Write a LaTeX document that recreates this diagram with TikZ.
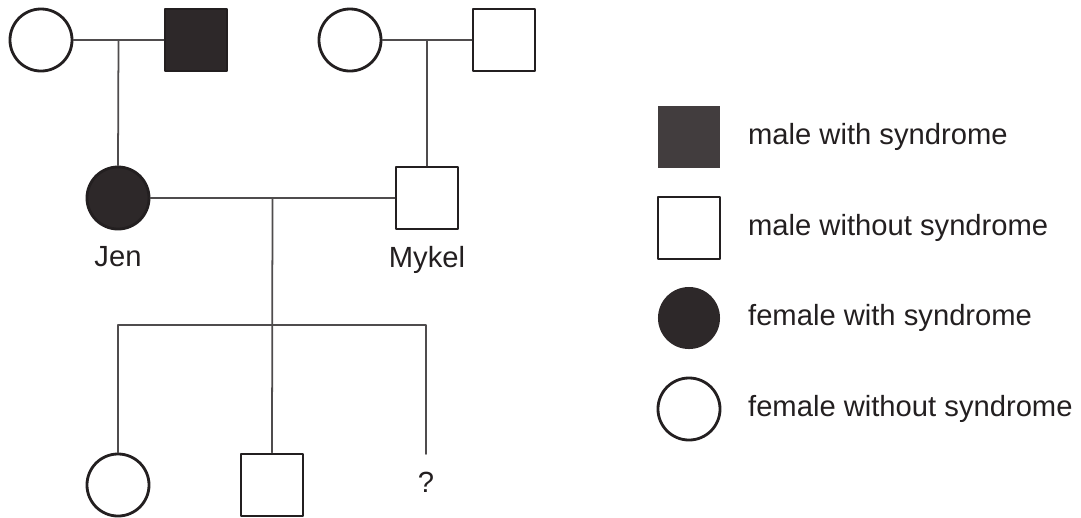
\documentclass[tikz,border=0pt]{standalone}
\usepackage{fontspec}
\setmainfont{Liberation Sans}
\usetikzlibrary{calc}

\definecolor{ink}{RGB}{35,31,32}
\definecolor{affected}{RGB}{45,40,41}

\begin{document}
\begin{tikzpicture}[x=0.01cm, y=-0.01cm, line cap=round, line join=round,
  female/.style={circle, draw=ink, line width=0.8pt, minimum size=0.62cm, inner sep=0pt},
  male/.style={rectangle, draw=ink, line width=0.8pt, minimum size=0.62cm, inner sep=0pt},
  sick/.style={fill=affected},
  link/.style={draw=ink!80, line width=0.5pt},
  label/.style={text=ink, font=\fontsize{8.3}{10}\selectfont},
  legendtext/.style={label, anchor=west, inner sep=0pt}]

\useasboundingbox (0,0) rectangle (1081,517);

% First generation: two couples
\node[female] (gm1) at (41,40) {};
\node[male, sick] (gf1) at (196,40) {};
\node[female] (gm2) at (350,40) {};
\node[male] (gf2) at (504,40) {};

% Second generation: Jen and Mykel
\node[female, sick] (jen) at (118,198) {};
\node[male] (mykel) at (427,198) {};
\node[label, below=1pt] at (jen.south) {Jen};
\node[label, below=1pt] at (mykel.south) {Mykel};

% Third generation: the children
\node[female] (kid1) at (118,485) {};
\node[male] (kid2) at (272,485) {};
\coordinate (kid3) at (426,454);
\node[label] (unknown) at (426,482) {?};

% Marriage lines and their mid points
\draw[link] (gm1) -- (gf1);
\draw[link] (gm2) -- (gf2);
\draw[link] (jen) -- (mykel);
\coordinate (m1) at ($(gm1.east)!0.5!(gf1.west)$);
\coordinate (m2) at ($(gm2.east)!0.5!(gf2.west)$);
\coordinate (m3) at ($(jen.east)!0.5!(mykel.west)$);

% Lines of descent
\draw[link] (m1) -- (jen.north);
\draw[link] (m2) -- (mykel.north);
\draw[link] (m3) -- (kid2.north);

% Sibship line
\coordinate (sib) at ($(m3)+(0,127)$);
\draw[link] (kid1.north) |- (sib) -| (kid3);

% Legend
\node[male, sick, draw=none, fill=affected!90!white] (lg1) at (689,137) {};
\node[male] (lg2) at (689,228) {};
\node[female, sick, draw=none] (lg3) at (689,318) {};
\node[female] (lg4) at (689,409) {};
\node[legendtext] at ([xshift=0.26cm] lg1.east) {male with syndrome};
\node[legendtext] at ([xshift=0.26cm] lg2.east) {male without syndrome};
\node[legendtext] at ([xshift=0.26cm] lg3.east) {female with syndrome};
\node[legendtext] at ([xshift=0.26cm] lg4.east) {female without syndrome};

\end{tikzpicture}
\end{document}
